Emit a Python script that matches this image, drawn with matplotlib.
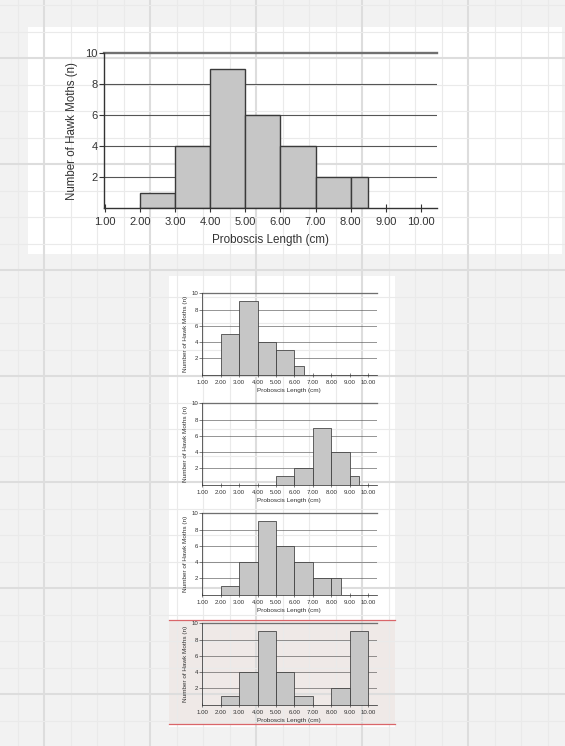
import numpy as np
import matplotlib
matplotlib.use("Agg")
import matplotlib.pyplot as plt
from matplotlib.patches import Rectangle

plt.rcParams['font.family'] = ['Liberation Sans', 'DejaVu Sans']

# histogram data: bin edges (cm) and counts of hawk moths
main_edges = [2, 3, 4, 5, 6, 7, 8, 8.5]
main_counts = [1, 4, 9, 6, 4, 2, 2]

opt_a_edges = [2, 3, 4, 5, 6, 6.5]
opt_a_counts = [5, 9, 4, 3, 1]

opt_b_edges = [5, 6, 7, 8, 9, 9.5]
opt_b_counts = [1, 2, 7, 4, 1]

opt_c_edges = [2, 3, 4, 5, 6, 7, 8, 8.5]
opt_c_counts = [1, 4, 9, 6, 4, 2, 2]

opt_d_edges = [2, 3, 4, 5, 6, 7, 8, 9, 10]
opt_d_counts = [1, 4, 9, 4, 1, 0, 2, 9]

x_ticks = [1, 2, 3, 4, 5, 6, 7, 8, 9, 10]
x_ticklabels = ['%.2f' % t for t in x_ticks]
y_ticks = [2, 4, 6, 8, 10]
x_title = 'Proboscis Length (cm)'
y_title = 'Number of Hawk Moths (n)'

W, H = 565, 746
fig = plt.figure(figsize=(W / 100, H / 100), dpi=100)
fig.patch.set_facecolor('#f2f2f2')

# background canvas in pixel units
bg = fig.add_axes([0, 0, 1, 1])
bg.set_xlim(0, W)
bg.set_ylim(H, 0)
bg.axis('off')
bg.set_zorder(-10)
for i in range(-2, 25):
    x = 44.3 + 26.5 * i
    major = (i % 4 == 0)
    bg.axvline(x, color='#dddddd' if major else '#eaeaea', lw=1.5 if major else 0.8)
for i in range(-12, 20):
    y = 270 + 26.5 * i
    major = (i % 4 == 0)
    bg.axhline(y, color='#dddddd' if major else '#eaeaea', lw=1.5 if major else 0.8)

bg.add_patch(Rectangle((28.3, 26.7), 534, 227.3, facecolor='white', edgecolor='none'))
bg.add_patch(Rectangle((168.6, 276), 226, 451, facecolor='white', edgecolor='none'))
bg.add_patch(Rectangle((168.6, 620), 226, 104.3, facecolor='#efe9e7', edgecolor='none'))
bg.plot([168.6, 394.6], [620, 620], color='#d9666a', lw=0.9)
bg.plot([168.6, 394.6], [724.3, 724.3], color='#d9666a', lw=0.9)


def px_axes(left, top, right, bottom):
    return fig.add_axes([left / W, 1 - bottom / H, (right - left) / W, (bottom - top) / H])


def draw_hist(ax, edges, counts, scale):
    edges = np.array(edges, dtype=float)
    counts = np.array(counts)
    keep = counts > 0
    ax.set_facecolor('none')
    ax.set_xlim(0.974, 10.46)
    ax.set_ylim(0, 10)
    ax.set_yticks(y_ticks)
    ax.set_yticklabels([str(t) for t in y_ticks])
    ax.set_xticks(x_ticks)
    ax.set_xticklabels(x_ticklabels)
    for t in y_ticks[:-1]:
        ax.axhline(t, color='#555555', lw=0.8 * scale, zorder=1)
    ax.axhline(10, color='#707070', lw=1.7 * scale, zorder=1, clip_on=False)
    ax.bar(edges[:-1][keep], counts[keep], width=np.diff(edges)[keep], align='edge',
           color='#c6c6c6', edgecolor='#3a3a3a', linewidth=1.0 * scale, zorder=2)
    for s in ['top', 'right']:
        ax.spines[s].set_visible(False)
    for s in ['left', 'bottom']:
        ax.spines[s].set_color('#333333')
        ax.spines[s].set_linewidth(1.0 * scale)
        ax.spines[s].set_zorder(3)
    ax.tick_params(axis='y', direction='out', length=3.5 * scale, width=0.8 * scale,
                   pad=1.0 * scale, labelsize=8 * scale, colors='#333333')
    ax.tick_params(axis='x', direction='inout', length=6 * scale, width=0.8 * scale,
                   pad=3.5 * scale, labelsize=8 * scale, colors='#333333')
    ax.set_xlabel(x_title, fontsize=8.4 * scale, color='#333333', labelpad=5 * scale)
    ax.set_ylabel(y_title, fontsize=8.3 * scale, color='#333333', labelpad=5 * scale)


ax_main = px_axes(104, 53.3, 437, 208.3)
draw_hist(ax_main, main_edges, main_counts, 1.0)

small = [(opt_a_edges, opt_a_counts), (opt_b_edges, opt_b_counts),
         (opt_c_edges, opt_c_counts), (opt_d_edges, opt_d_counts)]
for k, (e, c) in enumerate(small):
    top = 293.3 + 110 * k
    ax = px_axes(201.7, top, 376.7, top + 81.3)
    draw_hist(ax, e, c, 0.55)

fig.savefig('out.png', dpi=100, facecolor=fig.get_facecolor())
